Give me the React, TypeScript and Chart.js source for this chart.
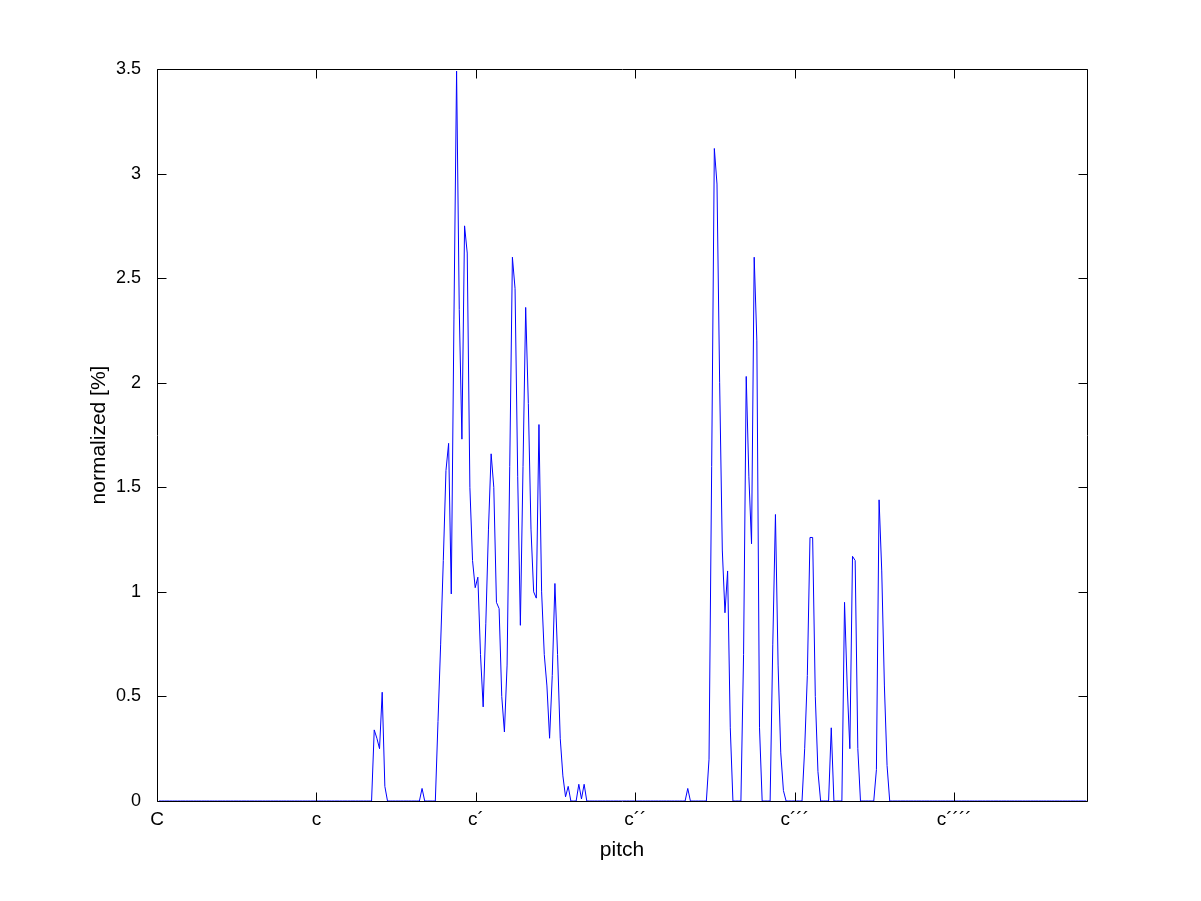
import React, { useEffect, useRef } from "react";
import { Chart, registerables } from "chart.js";

Chart.register(...registerables);

// Histogram bins: 0.2 semitone wide, first bin 0.15 semitones above C
const binOrigin = 0.15;
const binWidth = 0.2;
const binCount = 350;

// x axis (semitones above C) and labels
const xMin = 0;
const xMax = 70;
const pitchTickValues = [0, 12, 24, 36, 48, 60];
const pitchTickLabels = ["C", "c", "c´", "c´´", "c´´´", "c´´´´"];
const yTickValues = [0, 0.5, 1, 1.5, 2, 2.5, 3, 3.5];

// Non-zero clusters of the pitch histogram: start bin + values [%]
const clusterAStart = 80;
const clusterA = [0, 0.34, 0.3, 0.25, 0.52, 0.07, 0];

const blipBStart = 98;
const blipB = [0, 0.06, 0];

const clusterCStart = 104;
const clusterC = [
  0, 0.38, 0.75, 1.15, 1.58, 1.71, 0.99, 2.3, 3.49, 2.35,
  1.73, 2.75, 2.62, 1.5, 1.15, 1.02, 1.07, 0.7, 0.45, 0.85,
  1.3, 1.66, 1.5, 0.95, 0.92, 0.5, 0.33, 0.65, 1.6, 2.6,
  2.45, 1.55, 0.84, 1.6, 2.36, 1.9, 1.3, 1.0, 0.97, 1.8,
  1.0, 0.7, 0.55, 0.3, 0.6, 1.04, 0.7, 0.3, 0.12, 0.02,
  0.07, 0, 0, 0, 0.08, 0.01, 0.08, 0,
];

const blipDStart = 198;
const blipD = [0, 0.06, 0];

const clusterEStart = 206;
const clusterE = [0, 0.2, 1.6, 3.12, 2.95, 2.0, 1.2, 0.9, 1.1, 0.35, 0];

const clusterFStart = 219;
const clusterF = [0, 0.7, 2.03, 1.55, 1.23, 2.6, 2.2, 0.35, 0];

const clusterGStart = 230;
const clusterG = [0, 0.75, 1.37, 0.65, 0.23, 0.05, 0];

const clusterHStart = 242;
const clusterH = [0, 0.25, 0.6, 1.26, 1.26, 0.5, 0.14, 0];

const blipIStart = 252;
const blipI = [0, 0.35, 0];

const clusterJStart = 257;
const clusterJ = [0, 0.95, 0.55, 0.25, 1.17, 1.15, 0.25, 0];

const clusterKStart = 269;
const clusterK = [0, 0.15, 1.44, 1.1, 0.55, 0.17, 0];

const segments: Array<[number, number[]]> = [
  [clusterAStart, clusterA],
  [blipBStart, blipB],
  [clusterCStart, clusterC],
  [blipDStart, blipD],
  [clusterEStart, clusterE],
  [clusterFStart, clusterF],
  [clusterGStart, clusterG],
  [clusterHStart, clusterH],
  [blipIStart, blipI],
  [clusterJStart, clusterJ],
  [clusterKStart, clusterK],
];

function buildSeries() {
  const ys: number[] = new Array(binCount).fill(0);
  segments.forEach(([start, vals]) => {
    vals.forEach((v, k) => {
      ys[start + k] = v;
    });
  });
  return ys.map((y, i) => ({ x: binOrigin + binWidth * i, y }));
}

const FONT = "'Liberation Sans', Arial, Helvetica, sans-serif";
const W = 1201;
const H = 901;

const framePlugin = {
  id: "matlabFrame",
  afterDatasetsDraw(chart: any) {
    const { ctx, chartArea: a, scales } = chart;
    const xs = scales.x;
    const ys = scales.y;
    const L = Math.round(a.left) + 0.5;
    const R = Math.round(a.right) + 0.5;
    const T = Math.round(a.top) + 0.5;
    const B = Math.round(a.bottom) + 0.5;
    const len = 9;
    ctx.save();
    ctx.strokeStyle = "#000";
    ctx.lineWidth = 1;
    ctx.beginPath();
    ctx.moveTo(L, T);
    ctx.lineTo(R, T);
    ctx.lineTo(R, B);
    ctx.lineTo(L, B);
    ctx.closePath();
    xs.ticks.forEach((t: any) => {
      const px = Math.round(xs.getPixelForValue(t.value)) + 0.5;
      ctx.moveTo(px, B);
      ctx.lineTo(px, B - len);
      ctx.moveTo(px, T);
      ctx.lineTo(px, T + len);
    });
    ys.ticks.forEach((t: any) => {
      const py = Math.round(ys.getPixelForValue(t.value)) + 0.5;
      ctx.moveTo(L, py);
      ctx.lineTo(L + len, py);
      ctx.moveTo(R, py);
      ctx.lineTo(R - len, py);
    });
    ctx.stroke();
    ctx.restore();
  },
};

export default function App() {
  const ref = useRef<HTMLCanvasElement | null>(null);

  useEffect(() => {
    if (!ref.current) return;
    const chart = new Chart(ref.current, {
      type: "line",
      data: {
        datasets: [
          {
            data: buildSeries(),
            borderColor: "#0000ff",
            borderWidth: 1,
            pointRadius: 0,
            tension: 0,
            fill: false,
          },
        ],
      },
      options: {
        responsive: false,
        animation: false,
        devicePixelRatio: 1,
        layout: { padding: { left: 0, top: 69, right: W - 1087, bottom: 0 } },
        plugins: { legend: { display: false }, tooltip: { enabled: false } },
        scales: {
          x: {
            type: "linear",
            min: xMin,
            max: xMax,
            grid: { display: false, drawTicks: false },
            border: { display: false },
            afterBuildTicks: (scale: any) => {
              scale.ticks = pitchTickValues.map((v) => ({ value: v }));
            },
            afterFit: (scale: any) => {
              scale.height = H - 801;
            },
            ticks: {
              autoSkip: false,
              maxRotation: 0,
              padding: 7,
              color: "#000",
              font: { family: FONT, size: 19 },
              callback: (_v: any, i: number) => pitchTickLabels[i],
            },
            title: {
              display: true,
              text: "pitch",
              color: "#000",
              font: { family: FONT, size: 21 },
              padding: { top: 0, bottom: 38 },
            },
          },
          y: {
            type: "linear",
            min: 0,
            max: 3.5,
            grid: { display: false, drawTicks: false },
            border: { display: false },
            afterBuildTicks: (scale: any) => {
              scale.ticks = yTickValues.map((v) => ({ value: v }));
            },
            afterFit: (scale: any) => {
              scale.width = 157;
            },
            ticks: {
              padding: 16,
              color: "#000",
              font: { family: FONT, size: 18 },
              callback: (v: any) => String(v),
            },
            title: {
              display: true,
              text: "normalized [%]",
              color: "#000",
              font: { family: FONT, size: 21 },
              padding: { top: 87, bottom: 0 },
            },
          },
        },
      },
      plugins: [framePlugin],
    });
    return () => chart.destroy();
  }, []);

  return (
    <div
      style={{
        position: "fixed",
        left: 0,
        top: 0,
        width: W,
        height: H,
        background: "#fff",
      }}
    >
      <canvas ref={ref} width={W} height={H} style={{ display: "block" }} />
    </div>
  );
}
